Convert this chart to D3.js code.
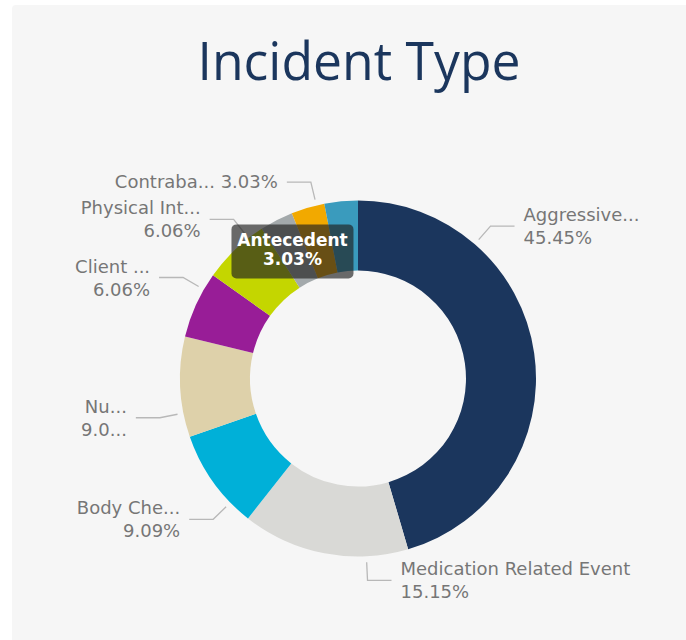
<!DOCTYPE html>
<html>
<head>
<meta charset="utf-8">
<script src="https://cdn.jsdelivr.net/npm/d3@7"></script>
<style>
  html, body { margin: 0; padding: 0; background: #ffffff; }
  svg { display: block; }
</style>
</head>
<body>
<svg id="chart" width="686" height="640"></svg>
<script>
// ---- Data ----
const categories = [
  "Aggressive Behavior", "Medication Related Event", "Body Check", "Nursing",
  "Client Injury", "Physical Intervention", "Antecedent", "Contraband", "Other"
];
const counts = [15, 5, 3, 3, 2, 2, 1, 1, 1];
const labelTexts = [
  ["Aggressive...", "45.45%"],
  ["Medication Related Event", "15.15%"],
  ["Body Che...", "9.09%"],
  ["Nu...", "9.0..."],
  ["Client ...", "6.06%"],
  ["Physical Int...", "6.06%"],
  null,
  ["Contraba... 3.03%"],
  null
];
const calloutIndex = 6;              // Antecedent shown as an inside callout
const calloutLines = ["Antecedent", "3.03%"];
const colors = ["#1b365d", "#d9d9d6", "#00b0d8", "#ded1aa", "#981d97",
                "#c4d600", "#a3a9ab", "#f2a900", "#3a9bbd"];
const title = "Incident Type";

// ---- Layout (label anchor angles, degrees clockwise from top) ----
const labelAngles = [41, 177.3, 225.8, 258.8, 300, 322, null, 346.5, null];

const W = 686, H = 640;
const cx = 358, cy = 378.5, R = 178, r = 108;

const svg = d3.select("#chart");

// panel
svg.append("rect").attr("x", 12).attr("y", 5)
  .attr("width", W - 12 + 10).attr("height", H)
  .attr("rx", 4).attr("fill", "#f6f6f6");

// title
svg.append("text")
  .attr("x", 359).attr("y", 80)
  .attr("text-anchor", "middle")
  .attr("font-family", "'Open Sans', 'Noto Sans', sans-serif")
  .attr("font-weight", 400)
  .attr("font-size", 53)
  .attr("textLength", 323)
  .attr("lengthAdjust", "spacingAndGlyphs")
  .attr("fill", "#1b365d")
  .text(title);

const pie = d3.pie().sort(null).value(d => d)(counts);
const arc = d3.arc().innerRadius(r).outerRadius(R);

const g = svg.append("g").attr("transform", `translate(${cx},${cy})`);

g.selectAll("path.slice").data(pie).join("path")
  .attr("class", "slice")
  .attr("d", arc)
  .attr("fill", (d, i) => colors[i]);

// labels
const polar = (deg, rad) => {
  const a = deg * Math.PI / 180;
  return [rad * Math.sin(a), -rad * Math.cos(a)];
};
const labelFont = "'DejaVu Sans', sans-serif";
const labelSize = 18;
pie.forEach((d, i) => {
  if (!labelTexts[i] || labelAngles[i] == null) return;
  const ang = labelAngles[i];
  const right = ang < 180;
  const p0 = polar(ang, R + 6);
  const p1 = polar(ang, R + 24);
  const p2 = [p1[0] + (right ? 24 : -24), p1[1]];
  g.append("polyline")
    .attr("points", [p0, p1, p2].map(p => p.join(",")).join(" "))
    .attr("fill", "none").attr("stroke", "#b8b8b8").attr("stroke-width", 1.3);
  const tx = p2[0] + (right ? 9 : -9);
  const lines = labelTexts[i];
  const t = g.append("text")
    .attr("x", tx)
    .attr("text-anchor", right ? "start" : "end")
    .attr("font-family", labelFont)
    .attr("font-size", labelSize)
    .attr("fill", "#767676");
  if (lines.length === 1) {
    t.attr("y", p2[1] + 6).text(lines[0]);
  } else {
    t.append("tspan").attr("x", tx).attr("y", p2[1] - 5).text(lines[0]);
    t.append("tspan").attr("x", tx).attr("y", p2[1] + 18).text(lines[1]);
  }
});

// callout for Antecedent
const c = arc.centroid(pie[calloutIndex]);
const bw = 122, bh = 54;
g.append("rect")
  .attr("x", c[0] - bw / 2).attr("y", c[1] - bh / 2)
  .attr("width", bw).attr("height", bh).attr("rx", 5)
  .attr("fill", "rgb(32,32,32)").attr("fill-opacity", 0.66);
const ct = g.append("text")
  .attr("text-anchor", "middle")
  .attr("font-family", labelFont)
  .attr("font-weight", 700)
  .attr("font-size", 17)
  .attr("fill", "#ffffff");
ct.append("tspan").attr("x", c[0]).attr("y", c[1] - 5).text(calloutLines[0]);
ct.append("tspan").attr("x", c[0]).attr("y", c[1] + 14).text(calloutLines[1]);
</script>
</body>
</html>
